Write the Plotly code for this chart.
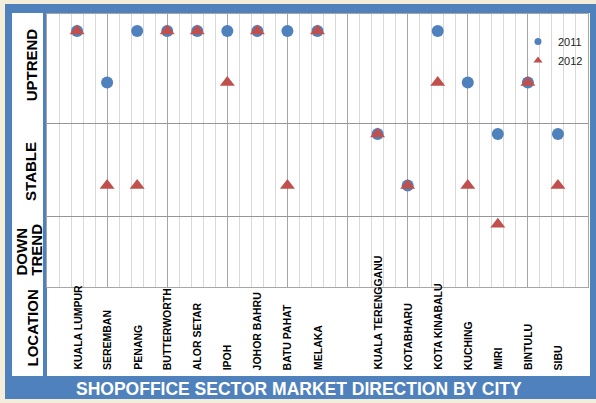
import plotly.graph_objects as go

# ---------------- data ----------------
cities = ["KUALA LUMPUR", "SEREMBAN", "PENANG", "BUTTERWORTH", "ALOR SETAR", "IPOH",
          "JOHOR BAHRU", "BATU PAHAT", "MELAKA", "KUALA TERENGGANU", "KOTABHARU",
          "KOTA KINABALU", "KUCHING", "MIRI", "BINTULU", "SIBU"]
city_pos = [1, 2, 3, 4, 5, 6, 7, 8, 9, 11, 12, 13, 14, 15, 16, 17]
# market direction level (5/4 = uptrend, 3/2 = stable, 1.25 = downtrend)
y2011 = [5, 4, 5, 5, 5, 5, 5, 5, 5, 3, 2, 5, 4, 3, 4, 3]
y2012 = [5, 2, 2, 5, 5, 4, 5, 2, 5, 3, 2, 4, 2, 1.25, 4, 2]
row_labels = ["UPTREND", "STABLE", "DOWN", "TREND", "LOCATION"]
series_names = ["2011", "2012"]
title_text = "SHOPOFFICE SECTOR MARKET DIRECTION BY CITY"

# ---------------- layout helpers ----------------
W, H = 596, 403
L, R, T, B = 47, 8, 14, 116
PW, PH = W - L - R, H - T - B


def px(x):
    return (x - L) / PW


def py(y):
    return (H - B - y) / PH


BLUE = "#4F81BD"
RED = "#C0504D"
CREAM = "#F3EDD9"
FONT = "Arial, Liberation Sans, sans-serif"

fig = go.Figure()
fig.add_trace(go.Scatter(x=city_pos, y=y2011, mode="markers", name=series_names[0],
                         marker=dict(symbol="circle", size=12, color=BLUE),
                         showlegend=False, legendgroup="a"))
fig.add_trace(go.Scatter(x=city_pos, y=y2012, mode="markers", name=series_names[1],
                         marker=dict(symbol="triangle-up", size=13, color=RED),
                         showlegend=False, legendgroup="b"))
# legend entries (small symbols like the original)
fig.add_trace(go.Scatter(x=[None], y=[None], mode="markers", name=series_names[0],
                         marker=dict(symbol="circle", size=7, color=BLUE), legendgroup="a"))
fig.add_trace(go.Scatter(x=[None], y=[None], mode="markers", name=series_names[1],
                         marker=dict(symbol="triangle-up", size=8, color=RED), legendgroup="b"))

shapes = [
    dict(type="rect", xref="paper", yref="paper", x0=px(5), x1=px(600), y0=py(4), y1=py(399),
         fillcolor=BLUE, line=dict(width=0), layer="below"),
    dict(type="rect", xref="paper", yref="paper", x0=px(12), x1=px(43), y0=py(13), y1=py(376),
         fillcolor="white", line=dict(width=0), layer="below"),
    dict(type="rect", xref="paper", yref="paper", x0=px(47), x1=px(590), y0=py(13), y1=py(376),
         fillcolor="white", line=dict(width=0), layer="below"),
]

ann = []
for c, xp in zip(cities, city_pos):
    ann.append(dict(x=xp, xref="x", y=py(372), yref="paper", text=c, textangle=-90,
                    xanchor="center", yanchor="bottom", showarrow=False,
                    font=dict(family=FONT, size=10.5, color="black", weight="bold")))

side = [(row_labels[0], 31.3, 65, "middle"), (row_labels[1], 30.5, 171.4, "middle"),
        (row_labels[2], 20.5, 278, "bottom"), (row_labels[3], 35.7, 278, "bottom"),
        (row_labels[4], 31.5, 328, "middle")]
for t, x, y, ya in side:
    ann.append(dict(x=px(x), xref="paper", y=py(y), yref="paper", text=t, textangle=-90,
                    xanchor="center", yanchor=ya, showarrow=False,
                    font=dict(family=FONT, size=15, color="black", weight="bold")))

ann.append(dict(x=px(299), xref="paper", y=py(389), yref="paper", text=title_text,
                xanchor="center", yanchor="middle", showarrow=False,
                font=dict(family=FONT, size=17.5, color="white", weight="bold")))

fig.update_layout(
    width=W, height=H,
    margin=dict(l=L, r=R, t=T, b=B),
    paper_bgcolor=CREAM, plot_bgcolor="white",
    shapes=shapes, annotations=ann,
    legend=dict(x=px(518), y=py(27), xanchor="left", yanchor="top",
                bgcolor="rgba(0,0,0,0)", font=dict(family=FONT, size=11, color="#222"),
                itemwidth=30, tracegroupgap=0),
    xaxis=dict(range=[0, 18], tick0=0, dtick=2, showgrid=True, gridcolor="#A6A6A6", gridwidth=1,
               minor=dict(tick0=0, dtick=0.4, showgrid=True, gridcolor="#D9D9D9", gridwidth=1),
               showticklabels=False, ticks="", zeroline=False,
               showline=True, linecolor="#A6A6A6", linewidth=1, mirror=True, fixedrange=True),
    yaxis=dict(range=[0.03, 5.33], tickvals=[1.39, 3.21], showgrid=True, gridcolor="#969696",
               gridwidth=1, showticklabels=False, ticks="", zeroline=False,
               showline=True, linecolor="#A6A6A6", linewidth=1, mirror=True, fixedrange=True),
)

fig.write_html("out.html", config={"displayModeBar": False},
               post_script="document.body.style.margin='0';document.body.style.padding='0';"
                           "document.documentElement.style.overflow='hidden';")
